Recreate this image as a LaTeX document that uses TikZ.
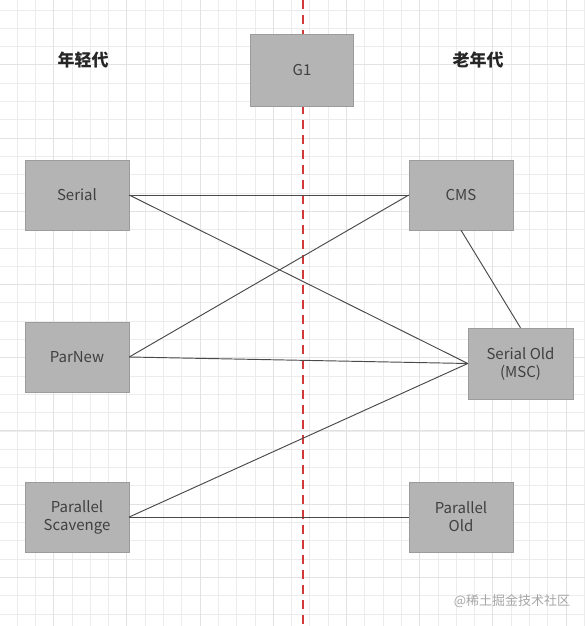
\documentclass[tikz,border=0pt]{standalone}
\usepackage{fontspec}
\setmainfont{Noto Sans CJK SC}
\usepackage{xcolor}
\usepackage{tikz}
\definecolor{gridmin}{HTML}{ECECEC}
\definecolor{gridmaj}{HTML}{E2E2E2}
\definecolor{boxfill}{HTML}{B4B4B4}
\definecolor{boxline}{HTML}{9C9C9C}
\definecolor{boxtext}{HTML}{404040}
\definecolor{divider}{HTML}{D23A3A}
\definecolor{wire}{HTML}{4A4A4A}

\begin{document}
\begin{tikzpicture}[
  x=1pt, y=-1pt,
  font=\fontsize{15}{18}\selectfont,
  gc/.style={draw=boxline,fill=boxfill,text=boxtext,align=center,
             minimum width=104pt,minimum height=70pt,inner sep=2pt},
  head/.style={font=\fontsize{17}{20}\selectfont\bfseries,text=black!85},
  link/.style={draw=wire,line width=0.95pt},
]
\useasboundingbox (0,0) rectangle (585,626);

% ---- background grid
\foreach \k in {0,...,32}
  \draw[gridmin,line width=0.8pt] ({-1.3+\k*18.3},0) -- ({-1.3+\k*18.3},626);
\foreach \k in {0,...,34}
  \draw[gridmin,line width=0.8pt] (0,{10+\k*18.3}) -- (585,{10+\k*18.3});
\foreach \k in {3,7,...,31}
  \draw[gridmaj,line width=0.9pt] ({-1.3+\k*18.3},0) -- ({-1.3+\k*18.3},626);
\foreach \k in {3,7,...,31}
  \draw[gridmaj,line width=0.9pt] (0,{10+\k*18.3}) -- (585,{10+\k*18.3});

% ---- the divider
\coordinate (top) at (303,0);
\coordinate (bot) at (303,626);
\draw[divider,line width=2pt,dash pattern=on 9pt off 6pt] (top) -- (bot);

% ---- headings
\node[head] (young) at (83,60) {年轻代};
\node[head] (old) at (478,60) {老年代};

% ---- collectors
\node[gc,minimum width=103pt,minimum height=72pt] (g1) at (302,70) {G1};
\node[gc] (serial) at (77,195) {Serial};
\node[gc] (parnew) at (77,357) {ParNew};
\node[gc] (pscav) at (77,517) {Parallel\\Scavenge};
\node[gc] (cms) at (461,195) {CMS};
\node[gc,minimum width=105pt,minimum height=71pt] (serold) at (520.5,363.5) {Serial Old\\(MSC)};
\node[gc] (pold) at (461,517) {Parallel\\Old};

% ---- pairings
\draw[link] (serial.east) -- (cms.west);
\draw[link] (serial.east) -- (serold.west);
\draw[link] (parnew.east) -- (cms.west);
\draw[link] (parnew.east) -- (serold.west);
\draw[link] (pscav.east) -- (serold.west);
\draw[link] (pscav.east) -- (pold.west);
\draw[link] (cms.south) -- (serold.north);

\node[text=black!35,font=\fontsize{13}{15}\selectfont] (mark) at (512,601) {@稀土掘金技术社区};
\end{tikzpicture}
\end{document}
